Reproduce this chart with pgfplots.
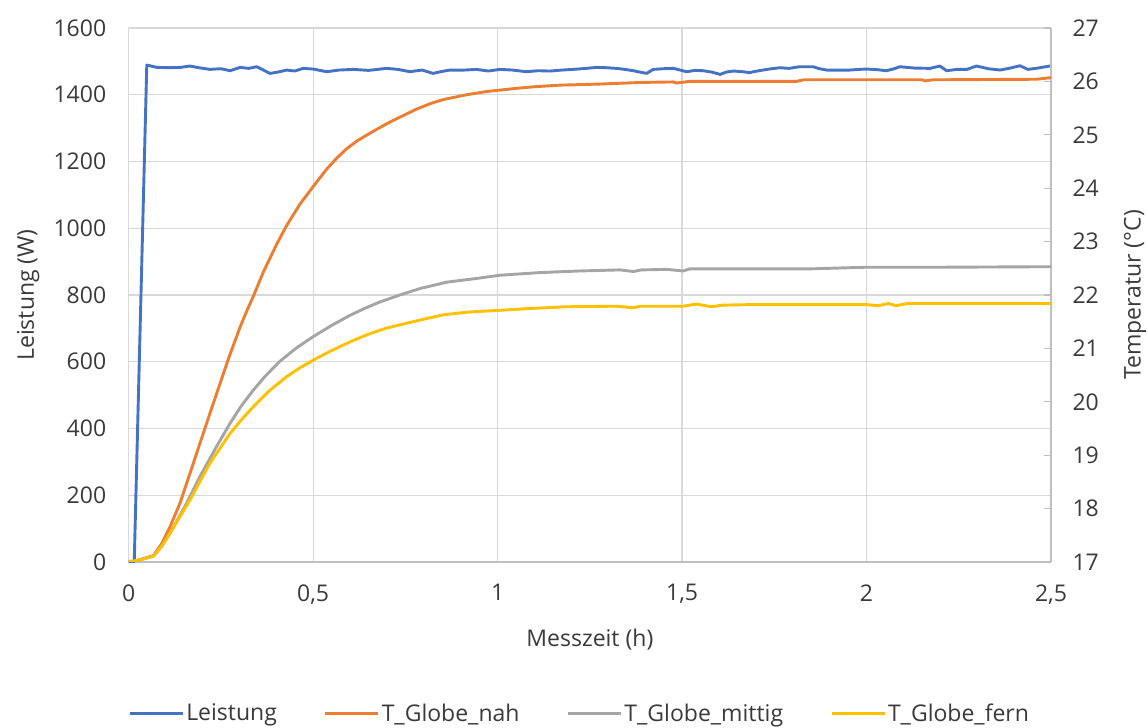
\documentclass[border=0pt]{standalone}
\usepackage{fontspec}
\setmainfont{Open Sans}
\usepackage{pgfplots}
\pgfplotsset{compat=1.18}
\definecolor{cBlue}{HTML}{4472C4}
\definecolor{cOrange}{HTML}{ED7D31}
\definecolor{cGray}{HTML}{A5A5A5}
\definecolor{cYellow}{HTML}{FFC000}
\definecolor{gridc}{HTML}{D9D9D9}
\definecolor{axisc}{HTML}{BFBFBF}
\definecolor{textc}{HTML}{3A3A3A}
\newcommand{\chartfont}{\fontsize{23bp}{27bp}\selectfont}
\pgfplotsset{
  base/.style={
    scale only axis, width=922.3bp, height=534bp,
    xmin=0, xmax=2.5,
    at={(0,0)}, anchor=south west,
    ticklabel style={font=\chartfont, text=textc},
    label style={font=\chartfont, text=textc},
    /pgf/number format/assume math mode=true,
    /pgf/number format/use comma,
    /pgf/number format/1000 sep={},
    every axis plot/.append style={line width=2.9bp, line join=round, mark=none},
  }
}
\begin{document}
\begin{tikzpicture}
\useasboundingbox (-128.7bp,-166bp) rectangle (1019.3bp,562bp);
\begin{axis}[base,
  ymin=0, ymax=1600,
  xtick={0,0.5,1,1.5,2,2.5}, ytick={0,200,400,600,800,1000,1200,1400,1600},
  grid=major, major grid style={draw=gridc, line width=1.3bp},
  axis x line*=bottom, axis y line*=left,
  x axis line style={draw=axisc, line width=1.3bp, -},
  y axis line style={draw=gridc, line width=1.3bp, -},
  major tick length=0pt,
  xticklabel style={yshift=-19bp},
  yticklabel style={xshift=-19bp},
  xlabel={Messzeit (h)}, ylabel={Leistung (W)},
  xlabel style={at={(axis description cs:0.5,-0.146)}, anchor=center},
  ylabel style={at={(axis description cs:-0.109,0.5)}, anchor=center},
  legend columns=4,
  legend style={at={(axis description cs:0.489,-0.283)}, anchor=center, draw=none, fill=none,
    font=\chartfont, text=textc, /tikz/every even column/.append style={column sep=45bp}},
  legend image code/.code={\draw[#1, line width=2.9bp] (0bp,0bp) -- (53bp,0bp);},
]
\addplot[cBlue] coordinates {
(0,0) (0.015,0) (0.049,1489) (0.076,1482) (0.11,1481) (0.14,1482) (0.166,1486) (0.19,1481)
(0.22,1476) (0.25,1478) (0.275,1472) (0.302,1482) (0.325,1479) (0.347,1484) (0.365,1474)
(0.383,1464) (0.405,1468) (0.428,1474) (0.45,1471) (0.473,1479) (0.5,1477) (0.537,1469)
(0.57,1474) (0.609,1476) (0.65,1473) (0.699,1479) (0.73,1476) (0.762,1469) (0.795,1474)
(0.825,1464) (0.85,1470) (0.871,1474) (0.91,1474) (0.943,1476) (0.975,1471) (1.006,1476)
(1.04,1474) (1.078,1469) (1.11,1472) (1.142,1471) (1.175,1474) (1.205,1476) (1.24,1479)
(1.268,1482) (1.295,1481) (1.322,1479) (1.345,1476) (1.368,1472) (1.385,1468) (1.404,1464)
(1.422,1476) (1.45,1478) (1.476,1479) (1.495,1474) (1.512,1469) (1.535,1473) (1.557,1472)
(1.58,1468) (1.603,1461) (1.62,1468) (1.639,1471) (1.665,1469) (1.684,1466) (1.693,1469)
(1.73,1476) (1.765,1481) (1.79,1479) (1.819,1484) (1.855,1484) (1.872,1478) (1.892,1474)
(1.92,1474) (1.955,1474) (1.98,1476) (2.0,1477) (2.03,1475) (2.054,1472) (2.075,1478)
(2.09,1484) (2.13,1480) (2.172,1479) (2.199,1486) (2.217,1472) (2.245,1476) (2.272,1476)
(2.298,1486) (2.33,1478) (2.362,1474) (2.39,1480) (2.416,1487) (2.437,1476) (2.465,1480)
(2.496,1486) (2.5,1485)
};
\addlegendentry{Leistung}
\addlegendimage{cOrange}\addlegendentry{T\_Globe\_nah}
\addlegendimage{cGray}\addlegendentry{T\_Globe\_mittig}
\addlegendimage{cYellow}\addlegendentry{T\_Globe\_fern}
\end{axis}
\begin{axis}[base,
  ymin=17, ymax=27, ytick={17,18,19,20,21,22,23,24,25,26,27},
  axis y line*=right, axis x line=none, xtick=\empty,
  y axis line style={draw=axisc, line width=1.3bp, -},
  ytick style={draw=axisc, line width=1.3bp},
  tick align=inside, major tick length=7bp,
  yticklabel style={xshift=18bp},
  ylabel={Temperatur (°C)},
  ylabel style={at={(axis description cs:1.091,0.5)}, anchor=center},
]
\addplot[cOrange] coordinates {
(0,17.0) (0.03,17.04) (0.067,17.12) (0.09,17.35) (0.112,17.66) (0.139,18.10) (0.166,18.66)
(0.193,19.22) (0.220,19.78) (0.248,20.35) (0.270,20.80) (0.302,21.40) (0.320,21.70)
(0.338,21.98) (0.365,22.43) (0.401,22.95) (0.428,23.30) (0.464,23.70) (0.500,24.03)
(0.537,24.36) (0.565,24.57) (0.591,24.74) (0.620,24.89) (0.654,25.03) (0.700,25.21) (0.735,25.33) (0.780,25.48)
(0.820,25.59) (0.853,25.66) (0.916,25.75) (0.970,25.81) (1.051,25.87) (1.10,25.90) (1.169,25.93)
(1.277,25.95) (1.386,25.98) (1.476,25.99) (1.485,25.97) (1.521,26.00) (1.684,26.00)
(1.81,26.00) (1.83,26.03) (2.15,26.03) (2.16,26.01) (2.18,26.03) (2.46,26.04) (2.5,26.07)
};
\addplot[cGray] coordinates {
(0,17.0) (0.03,17.04) (0.067,17.11) (0.09,17.30) (0.112,17.54) (0.157,18.10) (0.193,18.60)
(0.238,19.16) (0.275,19.60) (0.305,19.92) (0.338,20.22) (0.370,20.48) (0.410,20.76) (0.455,21.01) (0.500,21.22) (0.55,21.43)
(0.600,21.62) (0.640,21.75) (0.681,21.87) (0.735,22.00) (0.789,22.12) (0.862,22.24) (0.943,22.31)
(1.006,22.37) (1.115,22.42) (1.223,22.45) (1.332,22.47) (1.368,22.44) (1.390,22.47)
(1.458,22.48) (1.503,22.45) (1.521,22.49) (1.70,22.49) (1.85,22.49) (2.0,22.52)
(2.2,22.52) (2.5,22.53)
};
\addplot[cYellow] coordinates {
(0,17.0) (0.03,17.04) (0.067,17.11) (0.09,17.30) (0.112,17.54) (0.166,18.16) (0.220,18.85)
(0.275,19.41) (0.305,19.66) (0.338,19.91) (0.380,20.20) (0.428,20.47) (0.465,20.64) (0.500,20.78) (0.550,20.96)
(0.609,21.15) (0.655,21.28) (0.699,21.38) (0.735,21.44) (0.789,21.53) (0.853,21.63) (0.920,21.68)
(0.997,21.71) (1.096,21.75) (1.187,21.78) (1.322,21.79) (1.368,21.76) (1.386,21.79)
(1.503,21.79) (1.539,21.83) (1.58,21.78) (1.61,21.81) (1.684,21.82) (2.0,21.82)
(2.03,21.80) (2.06,21.84) (2.08,21.80) (2.11,21.84) (2.5,21.84)
};
\end{axis}
\end{tikzpicture}
\end{document}
